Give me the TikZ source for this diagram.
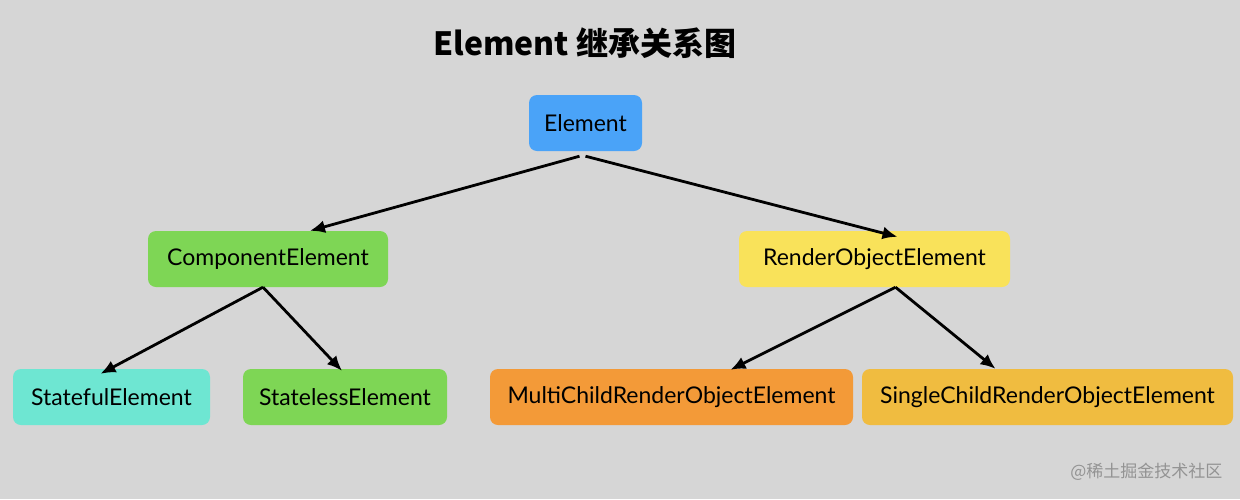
\documentclass[tikz,border=0pt]{standalone}
\usepackage{fontspec}
\setmainfont{Lato}
\newfontfamily\cjk{Noto Sans CJK SC}
\usetikzlibrary{arrows.meta}
\definecolor{bg}{HTML}{D6D6D6}
\definecolor{cblue}{HTML}{4AA3F8}
\definecolor{cgreen}{HTML}{7ED655}
\definecolor{cyellow}{HTML}{F9E25A}
\definecolor{cteal}{HTML}{6EE6D2}
\definecolor{corange}{HTML}{F39A38}
\definecolor{cgold}{HTML}{F0BC40}
\tikzset{
  box/.style={rounded corners=8pt, inner sep=0pt, minimum height=56pt, font=\fontsize{23}{27}\selectfont, text=black},
  arr/.style={line width=2.8pt, -{Latex[length=15pt,width=13pt]}},
}
\begin{document}
\begin{tikzpicture}[x=1pt,y=-1pt]
\fill[bg] (0,0) rectangle (1240,499);
\useasboundingbox (0,0) rectangle (1240,499);
\node[font=\cjk\bfseries\fontsize{32}{36}\selectfont] (title) at (585,43) {Element 继承关系图};
\node[box, fill=cblue, minimum width=113pt] (el) at (585.5,123) {Element};
\node[box, fill=cgreen, minimum width=240pt] (ce) at (268,259) {ComponentElement};
\node[box, fill=cyellow, minimum width=271pt] (re) at (874.5,259) {RenderObjectElement};
\node[box, fill=cteal, minimum width=197pt] (sf) at (111.5,397) {StatefulElement};
\node[box, fill=cgreen, minimum width=204pt] (sl) at (345,397) {StatelessElement};
\node[box, fill=corange, minimum width=363pt] (mc) at (671.5,397) {MultiChildRenderObjectElement};
\node[box, fill=cgold, minimum width=371pt] (sc) at (1047.5,397) {SingleChildRenderObjectElement};
\node[font=\cjk\fontsize{17}{20}\selectfont, text=gray!85, anchor=east] (wm) at (1226,472) {@稀土掘金技术社区};
\coordinate (e1) at ([xshift=-6pt,yshift=-5pt]el.south);
\coordinate (e2) at ([xshift=0pt,yshift=-5pt]el.south);
\coordinate (c1) at ([xshift=-5pt]ce.south);
\coordinate (r1) at ([xshift=21pt]re.south);
\draw[arr] (e1) -- ([xshift=42pt]ce.north);
\draw[arr] (e2) -- ([xshift=23pt,yshift=-6pt]re.north);
\draw[arr] (c1) -- ([xshift=-11pt,yshift=-5pt]sf.north);
\draw[arr] (c1) -- ([xshift=-3pt,yshift=-2pt]sl.north);
\draw[arr] (r1) -- ([xshift=59pt,yshift=-1pt]mc.north);
\draw[arr] (r1) -- ([xshift=-52pt]sc.north);
\end{tikzpicture}
\end{document}
